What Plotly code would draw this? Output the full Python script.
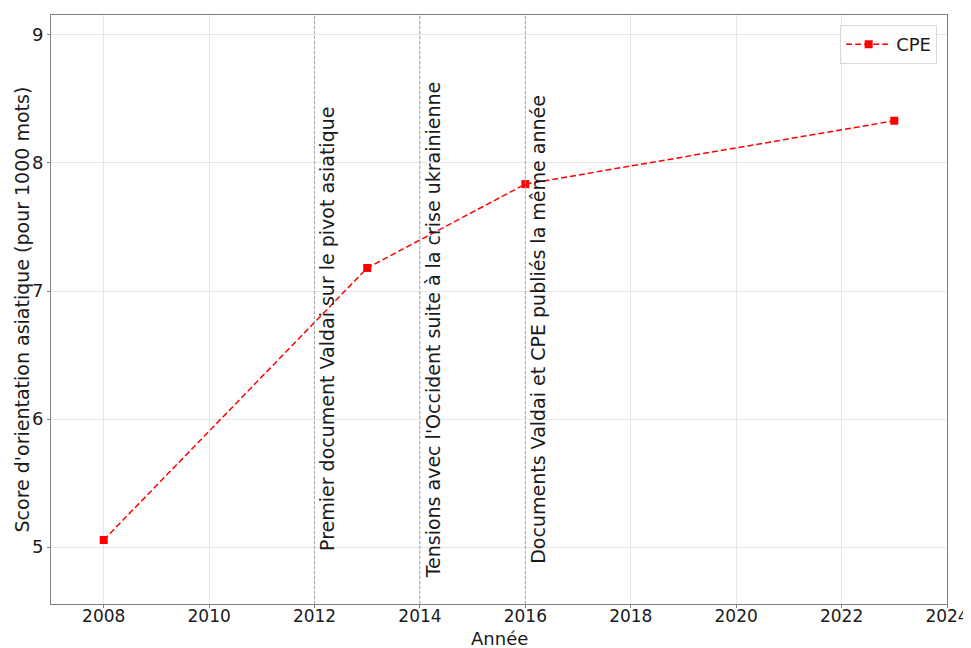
import plotly.graph_objects as go

years = [2008, 2013, 2016, 2023]
scores = [5.055, 7.18, 7.835, 8.33]
series_name = "CPE"

event_years = [2012, 2014, 2016]
event_labels = [
    "Premier document Valdai sur le pivot asiatique",
    "Tensions avec l'Occident suite à la crise ukrainienne",
    "Documents Valdai et CPE publiés la même année",
]
label_y = 6.70
label_offset = 0.0

x_title = "Année"
y_title = "Score d'orientation asiatique (pour 1000 mots)"

FONT = "DejaVu Sans, Liberation Sans, sans-serif"
TXT = "#1a1a1a"

fig = go.Figure()
for yr in event_years:
    fig.add_vline(x=yr, line=dict(color="#a6a6a6", width=1, dash="3px,2px"), layer="above")

fig.add_trace(go.Scatter(
    x=years, y=scores, name=series_name, mode="lines+markers",
    line=dict(color="#ff0000", width=1.5, dash="6px,3px"),
    marker=dict(symbol="square", size=8, color="#ff0000"),
))

for yr, lab in zip(event_years, event_labels):
    fig.add_annotation(x=yr + label_offset, y=label_y, xref="x", yref="y",
                       text=lab, textangle=-90, showarrow=False,
                       xanchor="left", yanchor="middle",
                       font=dict(family=FONT, size=19, color=TXT))

# axis titles
fig.add_annotation(x=0.5, y=0, xref="paper", yref="paper", text=x_title,
                   showarrow=False, xanchor="center", yanchor="top", yshift=-22,
                   font=dict(family=FONT, size=18, color=TXT))
fig.add_annotation(x=0, y=0.5, xref="paper", yref="paper", text=y_title,
                   showarrow=False, textangle=-90, xanchor="center", yanchor="middle",
                   xshift=-30, font=dict(family=FONT, size=19, color=TXT))

axis_common = dict(
    showgrid=True, gridcolor="#e6e6e6", gridwidth=1,
    showline=True, linecolor="#808080", linewidth=1, mirror=True,
    ticks="outside", ticklen=3, tickcolor="#808080",
    zeroline=False, automargin=False,
)

fig.update_layout(
    width=963, height=640,
    margin=dict(l=43, r=24, t=7, b=44),
    plot_bgcolor="white", paper_bgcolor="white",
    font=dict(family=FONT, color=TXT),
    xaxis=dict(range=[2007, 2024], dtick=2, tick0=2008, ticklabelstandoff=-6,
               tickfont=dict(family=FONT, size=17, color=TXT),
               **axis_common),
    yaxis=dict(range=[4.555, 9.156], dtick=1, tick0=5,
               tickfont=dict(family=FONT, size=18, color=TXT),
               **axis_common),
    legend=dict(x=0.989, y=0.983, xanchor="right", yanchor="top",
                bgcolor="rgba(255,255,255,0.8)", bordercolor="#d9d9d9", borderwidth=1,
                itemwidth=45,
                font=dict(family=FONT, size=18)),
    showlegend=True,
)

fig.write_html("out.html")
